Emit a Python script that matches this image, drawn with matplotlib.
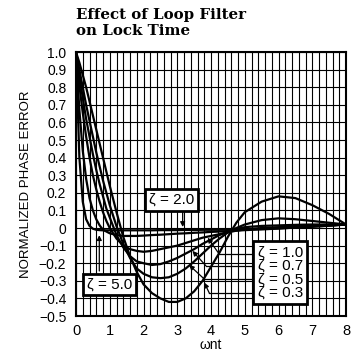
import numpy as np
import matplotlib
matplotlib.use('Agg')
import matplotlib.pyplot as plt

plt.rcParams['font.family'] = ['Liberation Sans', 'DejaVu Sans']

# normalized time values (omega_n * t)
wnt = [0, 0.1, 0.2, 0.3, 0.4, 0.5, 0.6, 0.7, 0.8, 0.9, 1.0, 1.2, 1.4, 1.6, 1.8, 2.0,
       2.25, 2.5, 2.75, 3.0, 3.25, 3.5, 3.75, 4.0, 4.25, 4.5, 4.75, 5.0, 5.5, 6.0,
       6.5, 7.0, 7.5, 8.0]

# phase error curves, one per damping factor
err_03 = [1.0, .94, .87, .80, .72, .64, .56, .48, .40, .32, .24, .09, -.05, -.16, -.25, -.32,
          -.37, -.40, -.42, -.42, -.40, -.36, -.30, -.22, -.14, -.05, .03, .09, .15, .18,
          .17, .13, .08, .02]
err_05 = [1.0, .90, .80, .70, .61, .52, .43, .35, .27, .20, .13, .01, -.09, -.17, -.23, -.26,
          -.28, -.285, -.28, -.26, -.23, -.19, -.145, -.10, -.06, -.025, 0.0, .02, .045, .055,
          .05, .04, .03, .02]
err_07 = [1.0, .865, .74, .62, .52, .42, .33, .25, .18, .11, .06, -.04, -.11, -.16, -.19, -.20,
          -.21, -.205, -.19, -.17, -.145, -.12, -.09, -.065, -.04, -.02, -.005, .005, .012, .015,
          .018, .02, .02, .02]
err_10 = [1.0, .81, .655, .52, .40, .30, .22, .15, .09, .04, 0.0, -.06, -.10, -.12, -.13, -.135,
          -.13, -.12, -.11, -.10, -.085, -.07, -.055, -.045, -.035, -.025, -.015, -.008, 0.0, .005,
          .01, .012, .015, .02]
err_20 = [1.0, .67, .44, .28, .17, .10, .05, .015, -.01, -.02, -.03, -.04, -.045, -.045, -.045,
          -.043, -.04, -.038, -.035, -.032, -.03, -.027, -.025, -.022, -.02, -.017, -.015, -.012,
          -.008, -.003, .003, .008, .014, .02]
err_50 = [1.0, .40, .15, .05, .012, -.004, -.01, -.012, -.013, -.013, -.013, -.013, -.013, -.013,
          -.013, -.013, -.013, -.012, -.012, -.012, -.011, -.011, -.01, -.01, -.01, -.009, -.008,
          -.007, -.005, -.002, .002, .007, .013, .02]

x_ticks = [0, 1, 2, 3, 4, 5, 6, 7, 8]
y_ticks = [1.0, 0.9, 0.8, 0.7, 0.6, 0.5, 0.4, 0.3, 0.2, 0.1, 0, -0.1, -0.2, -0.3, -0.4, -0.5]
y_labels = ['1.0', '0.9', '0.8', '0.7', '0.6', '0.5', '0.4', '0.3', '0.2', '0.1', '0',
            '\u22120.1', '\u22120.2', '\u22120.3', '\u22120.4', '\u22120.5']


def main():
    fig = plt.figure(figsize=(3.53, 3.51), dpi=100)
    ax = fig.add_axes([0.2153, 0.0997, 0.765, 0.752])

    for curve in [err_03, err_05, err_07, err_10, err_20, err_50]:
        ax.plot(wnt, curve, color='k', lw=1.6, solid_capstyle='round', zorder=3)

    ax.set_xlim(0, 8)
    ax.set_ylim(-0.5, 1.0)
    ax.set_xticks(x_ticks)
    ax.set_xticklabels([str(t) for t in x_ticks])
    ax.set_xticks(np.arange(0, 8.01, 0.2), minor=True)
    ax.set_yticks(y_ticks)
    ax.set_yticklabels(y_labels)
    ax.grid(True, which='both', color='k', lw=0.8)
    ax.tick_params(which='both', length=0)
    ax.tick_params(axis='y', pad=7, labelsize=10)
    ax.tick_params(axis='x', pad=6, labelsize=10.5)
    for s in ax.spines.values():
        s.set_linewidth(1.5)

    ax.set_xlabel('\u03c9nt', fontsize=10, labelpad=0)
    ax.set_ylabel('NORMALIZED PHASE ERROR', fontsize=9.5, labelpad=5)

    fig.text(0.216, 0.978, 'Effect of Loop Filter\non Lock Time', ha='left', va='top',
             fontsize=10.8, fontweight='bold', family='DejaVu Serif', linespacing=1.2)

    box = dict(boxstyle='square,pad=0.25', fc='white', ec='k', lw=2)

    # zeta = 2.0 label with arrow
    ax.annotate('', xy=(3.16, -0.01), xytext=(3.16, 0.11),
                arrowprops=dict(arrowstyle='-|>', color='k', lw=0.9, mutation_scale=7), zorder=4)
    ax.text(2.84, 0.16, '\u03b6 = 2.0', ha='center', va='center', fontsize=11, bbox=box, zorder=6)

    # zeta = 5.0 label with arrow
    ax.annotate('', xy=(0.69, -0.025), xytext=(0.69, -0.26),
                arrowprops=dict(arrowstyle='-|>', color='k', lw=0.9, mutation_scale=7), zorder=4)
    ax.text(0.99, -0.32, '\u03b6 = 5.0', ha='center', va='center', fontsize=11, bbox=box, zorder=6)

    # leaders from the big box to the curves
    leaders = [(-0.15, 4.25, (3.9, -0.055)),
               (-0.215, 3.85, (3.45, -0.13)),
               (-0.29, 3.8, (3.35, -0.21)),
               (-0.37, 3.95, (3.8, -0.31))]
    for ly, lx, tip in leaders:
        ax.plot([5.2, lx], [ly, ly], color='k', lw=0.9, zorder=4)
        ax.annotate('', xy=tip, xytext=(lx, ly),
                    arrowprops=dict(arrowstyle='-|>', color='k', lw=0.9, mutation_scale=7,
                                    shrinkA=0, shrinkB=0), zorder=4)

    ax.text(5.38, -0.253, '\u03b6 = 1.0\n\u03b6 = 0.7\n\u03b6 = 0.5\n\u03b6 = 0.3', ha='left',
            va='center', fontsize=11, linespacing=0.95,
            bbox=dict(boxstyle='square,pad=0.28', fc='white', ec='k', lw=2), zorder=6)

    fig.savefig('out.png', dpi=100)


if __name__ == '__main__':
    main()
